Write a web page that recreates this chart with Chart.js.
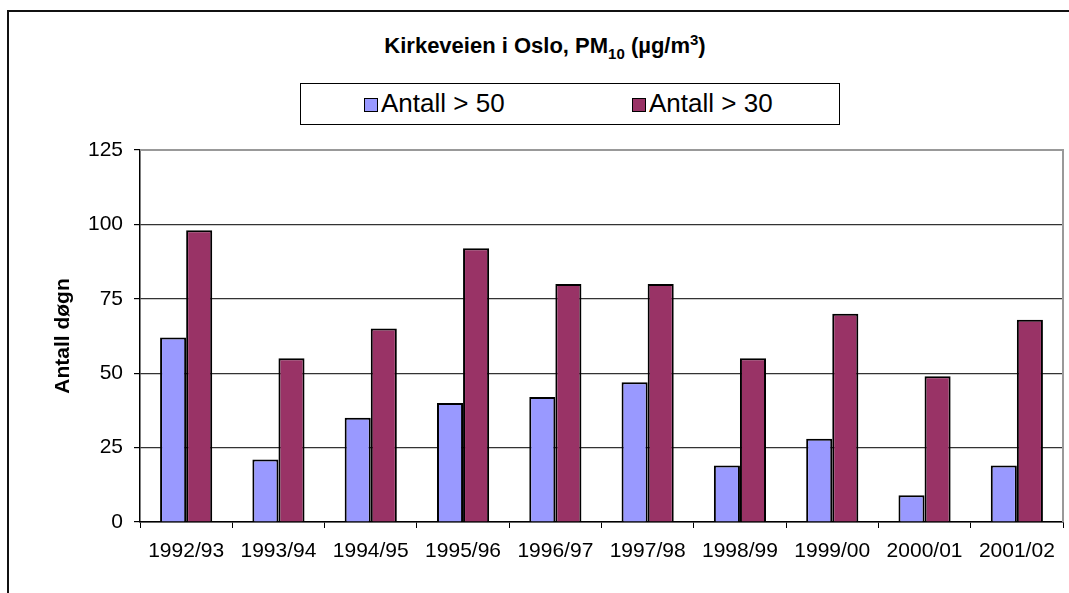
<!DOCTYPE html>
<html>
<head>
<meta charset="utf-8">
<title>Kirkeveien i Oslo</title>
<script src="https://cdn.jsdelivr.net/npm/chart.js@4/dist/chart.umd.min.js"></script>
<style>
body{margin:0;padding:0;background:#fff;font-family:"Liberation Sans",Arial,sans-serif;}
#wrap{position:relative;width:1069px;height:593px;overflow:hidden;}
#frame{position:absolute;left:7px;top:10px;width:1100px;height:620px;border:2px solid #111;box-sizing:border-box;}
#ttl{position:absolute;left:0;top:31px;width:1090px;text-align:center;font-weight:bold;font-size:22px;color:#000;}
#ttl sub,#ttl sup{font-size:15px;}
#lgd{position:absolute;left:300px;top:83px;width:540px;height:42px;border:1px solid #000;box-sizing:border-box;font-size:26px;}
.lg{position:absolute;top:4px;white-space:nowrap;}
.lg i{display:inline-block;width:12px;height:12px;border:1px solid #000;margin-right:3px;vertical-align:0px;}
canvas{position:absolute;left:0;top:0;}
</style>
</head>
<body>
<div id="wrap">
  <div id="frame"></div>
  <div id="ttl">Kirkeveien i Oslo, PM<sub>10</sub> (µg/m<sup>3</sup>)</div>
  <div id="lgd"></div>
  <canvas id="canvasG1" width="1069" height="593"></canvas>
</div>
<script>
//차트 데이터 (시즌별 일수)
var seasons = ["1992/93","1993/94","1994/95","1995/96","1996/97","1997/98","1998/99","1999/00","2000/01","2001/02"];
var over50 = [62, 21, 35, 40, 42, 47, 19, 28, 9, 19];
var over30 = [98, 55, 65, 92, 80, 80, 55, 70, 49, 68];
var seriesNames = ["Antall > 50", "Antall > 30"];
var seriesColors = ["#9999FF", "#993366"];
var yTicks = [0, 25, 50, 75, 100, 125];

//범례 출력
function drawLegend(){
	var lgd = document.getElementById("lgd");
	var lefts = [63, 331];
	for(var i=0;i<seriesNames.length;i++){
		var sp = document.createElement("span");
		sp.className = "lg";
		sp.style.left = lefts[i] + "px";
		sp.innerHTML = '<i style="background:' + seriesColors[i] + '"></i>' + seriesNames[i];
		lgd.appendChild(sp);
	}
}

//플롯 영역 테두리 (위, 오른쪽 회색)
var plotBorder = {
	id: "plotBorder",
	afterDraw: function(chart){
		var a = chart.chartArea, ctx = chart.ctx;
		ctx.save();
		ctx.strokeStyle = "#999";
		ctx.lineWidth = 2;
		ctx.beginPath();
		ctx.moveTo(a.left, a.top);
		ctx.lineTo(a.right, a.top);
		ctx.lineTo(a.right, a.bottom);
		ctx.stroke();
		ctx.restore();
	}
};

function G1_INIT(){
	var ctx = document.getElementById("canvasG1").getContext("2d");
	var sets = [over50, over30].map(function(d, i){
		return {
			label: seriesNames[i],
			data: d,
			backgroundColor: seriesColors[i],
			borderColor: "#000",
			borderWidth: 2,
			categoryPercentage: 0.565,
			barPercentage: 1
		};
	});
	window.myBarG1 = new Chart(ctx, {
		type: "bar",
		data: { labels: seasons, datasets: sets },
		plugins: [plotBorder],
		options: {
			responsive: false,
			animation: false,
			layout: { padding: { left: 0, top: 150, right: 6, bottom: 0 } },
			plugins: { legend: { display: false }, tooltip: { enabled: false } },
			scales: {
				x: {
					afterFit: function(s){ s.height = 71; },
					grid: { offset: true, drawOnChartArea: false, drawTicks: true, tickLength: 6, color: "#000", lineWidth: 1 },
					border: { color: "#000", width: 1.5 },
					ticks: { color: "#000", padding: 11, maxRotation: 0, font: { family: "Liberation Sans", size: 21 } }
				},
				y: {
					min: 0, max: 125,
					afterFit: function(s){ s.width = 140; },
					afterBuildTicks: function(s){ s.ticks = yTicks.map(function(v){ return { value: v }; }); },
					grid: {
						color: function(c){ return c.tick && c.tick.value == 125 ? "#999" : "#333"; },
						lineWidth: 1.2, tickLength: 6, tickColor: "#000"
					},
					border: { color: "#000", width: 1.5 },
					ticks: { color: "#000", padding: 11, font: { family: "Liberation Sans", size: 21 } },
					title: {
						display: true, text: "Antall døgn", color: "#000",
						font: { family: "Liberation Sans", size: 21, weight: "bold" },
						padding: { top: 51, bottom: 0 }
					}
				}
			}
		}
	});
}

drawLegend();
G1_INIT();
</script>
</body>
</html>
